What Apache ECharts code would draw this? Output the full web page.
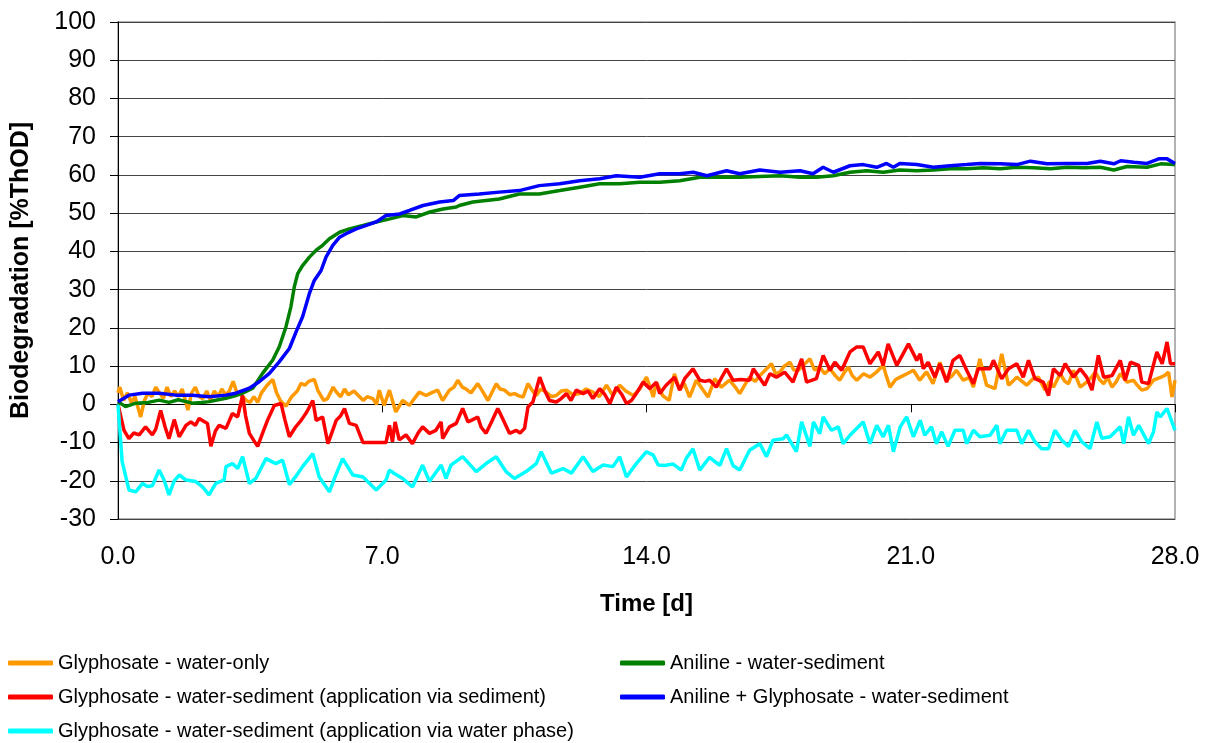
<!DOCTYPE html>
<html>
<head>
<meta charset="utf-8">
<script src="https://cdn.jsdelivr.net/npm/echarts@6/dist/echarts.min.js"></script>
<style>
  html, body { margin: 0; padding: 0; background: #fff; }
  #chart { width: 1211px; height: 743px; }
</style>
</head>
<body>
<div id="chart"></div>
<script>
// series names (legend order)
const names = [
  'Glyphosate - water-only',
  'Glyphosate - water-sediment (application via sediment)',
  'Glyphosate - water-sediment (application via water phase)',
  'Aniline - water-sediment',
  'Aniline + Glyphosate - water-sediment'
];
const colors = ['#FF9900', '#FF0000', '#00FFFF', '#008000', '#0000FF'];

// [time in d, %ThOD]
const waterOnly = [
  [0, 3], [0.05, 4.5], [0.15, 1], [0.25, 3], [0.35, 0.5], [0.45, 2], [0.6, -3.3], [0.7, 1], [0.8, 3], [0.9, 2],
  [1.0, 4.5], [1.1, 3], [1.2, 1.5], [1.3, 4.5], [1.4, 2], [1.5, 3.5], [1.6, 2], [1.7, 4], [1.8, 0.5], [1.85, -1.5],
  [1.95, 3], [2.05, 4.5], [2.15, 2], [2.25, 1.5], [2.35, 3.5], [2.45, 1], [2.55, 3.5], [2.65, 2], [2.75, 4], [2.85, 2.5],
  [2.95, 3.5], [3.05, 6], [3.15, 3], [3.25, 2.5], [3.4, 1], [3.5, 0.5], [3.6, 2], [3.7, 0.5], [3.8, 3], [3.95, 5],
  [4.1, 6.5], [4.2, 3], [4.3, 1], [4.45, -0.5], [4.6, 2], [4.75, 3.5], [4.85, 5.5], [4.95, 5], [5.05, 6], [5.2, 6.5],
  [5.3, 3.5], [5.45, 1], [5.55, 1.5], [5.7, 4.5], [5.8, 3], [5.9, 2], [6.0, 4], [6.1, 2.5], [6.25, 3.5], [6.4, 2],
  [6.5, 1], [6.6, 2], [6.75, 1.5], [6.85, 0], [6.92, 3.7], [7.05, -0.3], [7.19, 3.7], [7.36, -2], [7.54, 1], [7.72, -0.3],
  [7.85, 1.5], [7.98, 3.2], [8.16, 2.3], [8.3, 3], [8.47, 3.7], [8.6, 1], [8.78, 3.7], [8.9, 4.5], [9.0, 6.3], [9.12, 4.5],
  [9.22, 4], [9.35, 3], [9.53, 5.4], [9.65, 3.5], [9.8, 1], [10.02, 5.4], [10.12, 4], [10.24, 3.7], [10.38, 2.5], [10.5, 2.8],
  [10.62, 2.2], [10.73, 1.9], [10.86, 5.4], [10.98, 3.5], [11.08, 2.3], [11.2, 4], [11.34, 3.2], [11.48, 2], [11.61, 2.3], [11.75, 3.5],
  [11.88, 3.7], [12.05, 2.5], [12.23, 2.8], [12.4, 4], [12.58, 3.2], [12.75, 2], [12.94, 5], [13.11, 2.3], [13.29, 5], [13.45, 3.5],
  [13.65, 2.3], [13.82, 4], [14.0, 7.1], [14.18, 1.9], [14.26, 5.8], [14.43, 2.3], [14.6, 1], [14.74, 8], [14.88, 3.7], [15.0, 5.5],
  [15.14, 1.9], [15.32, 6.3], [15.48, 4], [15.63, 1.9], [15.81, 6.7], [15.98, 4.5], [16.2, 6.3], [16.35, 4.5], [16.47, 2.8], [16.6, 5],
  [16.73, 7.1], [16.88, 6], [17.0, 7.5], [17.15, 9], [17.31, 10.6], [17.42, 8], [17.53, 8.4], [17.65, 10], [17.8, 11], [17.9, 9],
  [18.02, 8.9], [18.18, 10.5], [18.33, 11.9], [18.45, 9], [18.59, 9.7], [18.72, 8], [18.86, 9.3], [19.0, 7.5], [19.12, 6.3], [19.25, 8.5],
  [19.35, 9.7], [19.45, 7.5], [19.57, 6.3], [19.75, 8], [19.92, 7.1], [20.1, 8.5], [20.27, 10.2], [20.35, 7.5], [20.45, 4.5], [20.6, 6.5],
  [20.72, 7.1], [20.9, 8], [21.07, 8.9], [21.24, 6.3], [21.42, 8.5], [21.59, 5.4], [21.77, 11], [21.95, 6.3], [22.1, 7.5], [22.21, 8.9],
  [22.39, 6.3], [22.55, 7], [22.66, 4.5], [22.83, 11.9], [23.01, 5], [23.23, 4.1], [23.41, 13.2], [23.59, 5], [23.7, 6], [23.81, 7.1],
  [23.95, 6], [24.07, 5], [24.22, 6.5], [24.38, 7.1], [24.56, 3.7], [24.68, 6], [24.78, 4.5], [24.96, 8], [25.08, 6], [25.18, 5.4],
  [25.31, 8.9], [25.49, 4.5], [25.66, 5.8], [25.78, 7], [25.89, 8.4], [26.0, 6.5], [26.11, 5.4], [26.22, 7], [26.33, 4.5], [26.45, 6],
  [26.55, 8], [26.73, 5.8], [26.9, 6.3], [27.0, 5], [27.12, 3.7], [27.26, 4.1], [27.43, 6.3], [27.6, 7], [27.72, 7.5], [27.83, 8.4],
  [27.92, 1.9], [28.0, 6.3]
];

const viaSediment = [
  [0, 0], [0.16, -6.8], [0.29, -9], [0.42, -7.5], [0.56, -8], [0.73, -5.9], [0.91, -8], [1.0, -6.5], [1.13, -1.6], [1.25, -6],
  [1.35, -9], [1.49, -4], [1.62, -8.5], [1.8, -5.5], [1.93, -4.6], [2.05, -5.5], [2.15, -3.7], [2.28, -4.5], [2.37, -5], [2.46, -11],
  [2.58, -7], [2.68, -5.5], [2.86, -6.3], [3.03, -2.4], [3.17, -3.3], [3.3, 2.3], [3.38, -3], [3.48, -7.6], [3.6, -9.5], [3.7, -11],
  [3.85, -7], [3.96, -4.2], [4.14, -0.3], [4.32, 0.2], [4.42, -4], [4.54, -8.5], [4.7, -6], [4.85, -4.2], [5.0, -2], [5.16, 1],
  [5.25, -4.2], [5.42, -3.3], [5.56, -10.3], [5.68, -7], [5.78, -4.2], [5.9, -3], [6.0, -1.1], [6.13, -5], [6.31, -5.5], [6.49, -10],
  [6.84, -10], [7.1, -10], [7.19, -5.5], [7.27, -9.8], [7.34, -4.6], [7.45, -9.3], [7.63, -8], [7.8, -10.3], [7.95, -7.5], [8.07, -5.9],
  [8.25, -7.6], [8.42, -6.8], [8.56, -4.6], [8.6, -9], [8.78, -5.9], [8.96, -5], [9.13, -1.1], [9.27, -4.6], [9.4, -4], [9.53, -3.3],
  [9.62, -6], [9.75, -7.6], [9.9, -4.5], [10.06, -1.1], [10.2, -4], [10.37, -7.6], [10.55, -6.8], [10.65, -7.5], [10.77, -6.3], [10.86, -0.7],
  [10.99, 0.6], [11.17, 7.1], [11.3, 3.7], [11.43, 1], [11.61, 0.6], [11.74, 1.5], [11.88, 2.8], [12.0, 1], [12.14, 3.7], [12.32, 2.8],
  [12.45, 3.5], [12.58, 1.5], [12.76, 4.1], [12.9, 2.5], [13.03, 0.2], [13.2, 4.5], [13.35, 2.5], [13.47, 0.2], [13.6, 1], [13.73, 2.8],
  [13.91, 5.8], [14.09, 4.1], [14.26, 5.8], [14.35, 2.8], [14.52, 5], [14.74, 7.1], [14.88, 3.7], [15.01, 6.7], [15.23, 9.3], [15.41, 6.3],
  [15.55, 6], [15.67, 6.3], [15.85, 4.5], [16.12, 9.3], [16.29, 6.3], [16.5, 6.5], [16.73, 6.3], [16.83, 9.3], [17.13, 5], [17.27, 8],
  [17.44, 7.1], [17.66, 8.4], [17.88, 5.8], [18.11, 11.9], [18.24, 5.8], [18.5, 6.7], [18.68, 12.8], [18.86, 8.9], [18.99, 11], [19.17, 8.9],
  [19.39, 13.7], [19.57, 15], [19.74, 15], [19.92, 10.6], [20.14, 13.7], [20.27, 10.2], [20.4, 15.8], [20.63, 10.2], [20.94, 15.8], [21.16, 11.5],
  [21.25, 13.2], [21.33, 9.3], [21.46, 11], [21.64, 7.1], [21.77, 10.6], [21.95, 5.8], [22.12, 11.5], [22.3, 12.8], [22.48, 8.9], [22.66, 5.4],
  [22.79, 9.3], [23.1, 9.3], [23.19, 11.5], [23.41, 6.7], [23.59, 9.3], [23.81, 10.6], [23.98, 7.1], [24.12, 11.5], [24.29, 6.7], [24.51, 5.8],
  [24.65, 2.3], [24.78, 9.3], [24.96, 7.5], [25.09, 10.6], [25.31, 7.1], [25.49, 9.3], [25.66, 7.1], [25.8, 3.7], [25.97, 12.8], [26.11, 7.1],
  [26.33, 7.5], [26.55, 11.5], [26.68, 6.3], [26.82, 11], [27.04, 10.2], [27.12, 5.8], [27.3, 5.4], [27.52, 13.7], [27.66, 10.6], [27.79, 16.3],
  [27.88, 10.6], [28.0, 10.6]
];

const viaWater = [
  [0, 0], [0.11, -15], [0.29, -22.4], [0.47, -22.9], [0.65, -20.7], [0.78, -21.5], [0.91, -21.3], [1.09, -17.2], [1.22, -19.8], [1.35, -23.7],
  [1.49, -20], [1.62, -18.5], [1.8, -19.8], [2.06, -20.2], [2.24, -21.6], [2.41, -23.7], [2.59, -20.7], [2.81, -19.8], [2.86, -16.3], [3.03, -15.5],
  [3.17, -16.8], [3.3, -13.7], [3.48, -20.7], [3.65, -19.4], [3.92, -14.2], [4.18, -15.5], [4.36, -14.6], [4.54, -21], [4.7, -19], [4.89, -16.3],
  [5.16, -12.9], [5.33, -19], [5.6, -22.9], [5.75, -19], [5.95, -14.2], [6.22, -18.5], [6.49, -19], [6.84, -22.4], [7.1, -19.8], [7.19, -17.2],
  [7.32, -18.1], [7.54, -19.4], [7.8, -21.6], [8.07, -15.9], [8.25, -20.2], [8.56, -15.9], [8.69, -19.4], [8.82, -15.9], [9.13, -13.7], [9.49, -17.6],
  [9.75, -15.5], [10.02, -13.7], [10.28, -17.6], [10.5, -19.4], [10.81, -17.6], [11.08, -15.5], [11.21, -12.4], [11.48, -18], [11.79, -16.8], [12.01, -18],
  [12.32, -13.7], [12.58, -17.6], [12.85, -15.9], [13.11, -16.3], [13.29, -13.7], [13.47, -19], [13.73, -15.5], [14.0, -12.4], [14.18, -13.3], [14.31, -15.9],
  [14.48, -16], [14.7, -15.6], [14.92, -17.2], [15.05, -14.2], [15.23, -11.6], [15.41, -17.2], [15.67, -13.9], [15.94, -16], [16.12, -11.6], [16.29, -16],
  [16.47, -17.2], [16.73, -12], [17.0, -10.3], [17.18, -13.7], [17.35, -9.4], [17.62, -9], [17.71, -8], [17.97, -12.4], [18.11, -4.6], [18.33, -11],
  [18.42, -4.6], [18.59, -7.7], [18.68, -3.3], [18.9, -6.8], [19.08, -5.9], [19.21, -10.3], [19.39, -8.1], [19.74, -4.6], [19.92, -10.3], [20.1, -5.5],
  [20.27, -8.5], [20.41, -5.5], [20.54, -12.4], [20.72, -5.9], [20.89, -3.3], [21.07, -8.5], [21.25, -4.2], [21.37, -8.1], [21.55, -5.9], [21.68, -10.3],
  [21.82, -7.2], [21.99, -11], [22.17, -6.8], [22.39, -6.8], [22.48, -10.3], [22.66, -6.8], [22.83, -8.5], [23.1, -8.1], [23.28, -5.5], [23.36, -10.3],
  [23.54, -6.8], [23.81, -6.8], [23.94, -10.3], [24.12, -6.8], [24.29, -9.8], [24.47, -11.6], [24.65, -11.6], [24.82, -6.8], [25.0, -9.4], [25.18, -11],
  [25.35, -6.8], [25.53, -9.8], [25.75, -11.6], [25.93, -4.6], [26.06, -8.9], [26.28, -8.5], [26.55, -5.9], [26.64, -10.3], [26.77, -3.3], [26.9, -8.1],
  [27.04, -5.5], [27.3, -10.3], [27.43, -7.2], [27.52, -2], [27.61, -3.3], [27.79, -1.1], [28.0, -6.8]
];

const aniline = [
  [0, 0.7], [0.2, -0.6], [0.47, 0.3], [0.8, 0.5], [1.09, 1.1], [1.35, 0.5], [1.6, 1.2], [1.97, 0.3], [2.2, 0.5], [2.42, 0.7],
  [2.65, 1.2], [2.86, 1.6], [3.1, 2.2], [3.3, 2.9], [3.57, 4.2], [3.83, 8.1], [4.1, 11.6], [4.27, 15], [4.45, 20.3], [4.58, 25.5],
  [4.67, 30.7], [4.76, 34.2], [4.89, 36.3], [5.07, 38.5], [5.25, 40.3], [5.42, 41.6], [5.6, 43.3], [5.87, 45], [6.13, 45.9], [6.49, 46.8],
  [6.84, 47.7], [7.2, 48.5], [7.55, 49.4], [7.9, 49], [8.26, 50.3], [8.61, 51.1], [8.96, 51.6], [9.04, 52], [9.4, 52.9], [10.1, 53.7],
  [10.63, 55], [11.16, 55], [11.7, 55.9], [12.23, 56.8], [12.76, 57.7], [13.29, 57.7], [13.82, 58.1], [14.35, 58.1], [14.88, 58.5], [15.41, 59.4],
  [15.94, 59.4], [16.47, 59.4], [17.0, 59.6], [17.54, 59.8], [18.07, 59.4], [18.5, 59.4], [18.95, 59.8], [19.39, 60.7], [19.83, 61.1], [20.27, 60.7],
  [20.71, 61.3], [21.16, 61.1], [21.6, 61.3], [22.04, 61.6], [22.48, 61.6], [22.93, 61.9], [23.37, 61.6], [23.81, 62], [24.25, 61.9], [24.7, 61.6],
  [25.14, 62], [25.58, 61.9], [26.02, 62], [26.38, 61.3], [26.73, 62.2], [27.26, 62], [27.62, 62.9], [27.97, 62.7], [28.0, 62.6]
];

const anilineGly = [
  [0, 0.7], [0.29, 2.4], [0.65, 2.9], [1.09, 2.9], [1.53, 2.4], [1.97, 2.4], [2.42, 2], [2.86, 2.4], [3.12, 2.9], [3.48, 4.2],
  [3.74, 5.9], [4.01, 8.1], [4.27, 11.1], [4.54, 14.6], [4.72, 19], [4.89, 22.9], [5.07, 29], [5.2, 32.4], [5.38, 35], [5.51, 38.5],
  [5.69, 41.6], [5.87, 43.7], [6.04, 44.6], [6.31, 45.9], [6.58, 46.8], [6.84, 47.7], [7.1, 49.4], [7.46, 49.8], [7.72, 50.7], [8.08, 52],
  [8.52, 52.9], [8.88, 53.3], [9.04, 54.6], [9.57, 55], [10.1, 55.5], [10.63, 55.9], [11.16, 57.2], [11.7, 57.7], [12.23, 58.5], [12.76, 59],
  [13.2, 59.8], [13.82, 59.4], [14.35, 60.3], [14.88, 60.3], [15.24, 60.7], [15.6, 59.8], [16.12, 61.1], [16.47, 60.3], [17.0, 61.3], [17.54, 60.7],
  [18.07, 61.1], [18.41, 60.3], [18.68, 62], [18.95, 60.7], [19.39, 62.4], [19.74, 62.7], [20.1, 62], [20.36, 63], [20.54, 62], [20.71, 63],
  [21.16, 62.7], [21.6, 62], [22.04, 62.4], [22.48, 62.7], [22.84, 63], [23.37, 62.9], [23.81, 62.7], [24.17, 63.6], [24.61, 62.9], [25.14, 63],
  [25.67, 63], [26.02, 63.6], [26.38, 62.9], [26.56, 63.7], [26.91, 63.3], [27.26, 63], [27.57, 64.2], [27.79, 64.2], [28.0, 63]
];

const seriesData = [waterOnly, viaSediment, viaWater, aniline, anilineGly];

const chart = echarts.init(document.getElementById('chart'), null, { renderer: 'canvas' });
const font = 'Liberation Sans, Arial, sans-serif';

const legendBase = {
  orient: 'vertical',
  top: 653,
  height: 90,
  padding: 0,
  itemGap: 14,
  itemWidth: 45,
  itemHeight: 5,
  icon: 'roundRect',
  selectedMode: false,
  textStyle: { fontFamily: font, fontSize: 20, color: '#000', lineHeight: 20 }
};

const option = {
  animation: false,
  backgroundColor: '#fff',
  color: colors,
  grid: {
    left: 118, right: 36, top: 22, bottom: 224,
    show: true, borderColor: '#999', borderWidth: 1.5
  },
  legend: [
    Object.assign({}, legendBase, { left: 8, data: names.slice(0, 3) }),
    Object.assign({}, legendBase, { left: 620, data: names.slice(3) })
  ],
  xAxis: {
    type: 'value',
    min: 0, max: 28, interval: 7,
    name: 'Time [d]',
    nameLocation: 'middle',
    nameGap: 73,
    nameTextStyle: { fontFamily: font, fontSize: 24, fontWeight: 'bold', color: '#000' },
    axisLine: { show: true, lineStyle: { color: '#000', width: 1 } },
    axisTick: { show: true, length: 8, lineStyle: { color: '#000' } },
    axisLabel: { fontFamily: font, fontSize: 25, color: '#000', margin: 26, formatter: v => v.toFixed(1) },
    splitLine: { show: false }
  },
  yAxis: {
    type: 'value',
    min: -30, max: 100, interval: 10,
    name: 'Biodegradation [%ThOD]',
    nameLocation: 'middle',
    nameGap: 84,
    nameTextStyle: { fontFamily: font, fontSize: 25, fontWeight: 'bold', color: '#000' },
    axisLine: { show: true, lineStyle: { color: '#000', width: 1 } },
    axisTick: { show: true, length: 8, lineStyle: { color: '#000' } },
    axisLabel: { fontFamily: font, fontSize: 25, color: '#000', margin: 22 },
    splitLine: { show: true, lineStyle: { color: '#444', width: 1 } }
  },
  series: names.map((n, i) => ({
    name: n,
    type: 'line',
    data: seriesData[i],
    showSymbol: false,
    symbol: 'none',
    lineStyle: { width: 3.5, color: colors[i] },
    itemStyle: { color: colors[i] }
  }))
};

chart.setOption(option);
</script>
</body>
</html>
